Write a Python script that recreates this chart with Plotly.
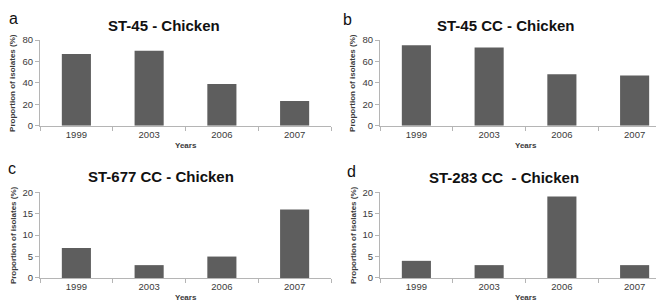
import plotly.graph_objects as go

years = ["1999", "2003", "2006", "2007"]
st45 = [67, 70, 39, 23]
st45cc = [75, 73, 48, 47]
st677cc = [7, 3, 5, 16]
st283cc = [4, 3, 19, 3]

titles = ["ST-45 - Chicken", "ST-45 CC - Chicken", "ST-677 CC - Chicken", "ST-283 CC  - Chicken"]
letters = ["a", "b", "c", "d"]
series = [st45, st45cc, st677cc, st283cc]
yranges = [80, 80, 20, 20]
ydticks = [20, 20, 5, 5]

W, H = 664, 301
# pixel boxes: (x0, x1, ytop, ybottom)
boxes = [(32, 323, 27, 116), (372, 663, 27, 116), (32, 323, 185, 274), (372, 663, 185, 274)]
title_pos = [(156, 12), (498, 12), (153, 169), (496, 170)]
letter_pos = [(5, 5), (339, 6), (4, 160), (343, 163)]
years_dy = [21, 21, 20, 20]

BAR = "#5e5e5e"
AXC = "#b5b5b5"
TXT = "#3a3a3a"
FONT = "Liberation Sans"

fig = go.Figure()
annotations = []
for i in range(4):
    ax = "" if i == 0 else str(i + 1)
    x0, x1, yt, yb = boxes[i]
    fig.add_trace(go.Bar(x=years, y=series[i], marker=dict(color=BAR, line=dict(width=0)),
                         width=0.4, xaxis="x" + ax, yaxis="y" + ax, showlegend=False))
    fig.update_layout(**{
        "xaxis" + ax: dict(domain=[x0 / W, x1 / W], anchor="y" + ax, type="category",
                           range=[-0.5, 3.5], tickson="boundaries", ticks="outside", ticklen=4,
                           tickcolor=AXC, showline=True, linecolor=AXC, linewidth=1,
                           showgrid=False, tickfont=dict(family=FONT, size=9.5, color=TXT)),
        "yaxis" + ax: dict(domain=[1 - yb / H, 1 - yt / H], anchor="x" + ax,
                           range=[0, yranges[i]], dtick=ydticks[i], ticks="outside", ticklen=4,
                           tickcolor=AXC, showline=True, linecolor=AXC, linewidth=1,
                           showgrid=False, zeroline=False,
                           tickfont=dict(family=FONT, size=9.5, color=TXT)),
    })
    tx, ty = title_pos[i]
    annotations.append(dict(text="<b>" + titles[i] + "</b>", x=tx / W, y=1 - ty / H, xref="paper",
                            yref="paper", showarrow=False, xanchor="center", yanchor="middle",
                            font=dict(family=FONT, size=15, color="#111111")))
    lx, ly = letter_pos[i]
    annotations.append(dict(text=letters[i], x=lx / W, y=1 - ly / H, xref="paper", yref="paper",
                            showarrow=False, xanchor="center", yanchor="middle",
                            font=dict(family=FONT, size=16, color="#111111")))
    annotations.append(dict(text="<b>Years</b>", x=(x0 + x1) / 2 / W, y=1 - (yb + years_dy[i]) / H,
                            xref="paper", yref="paper", showarrow=False, xanchor="center",
                            yanchor="middle", font=dict(family=FONT, size=8, color=TXT)))
    annotations.append(dict(text="<b>Proportion of isolates (%)</b>", x=(x0 - 27) / W,
                            y=1 - (yt + yb) / 2 / H, xref="paper", yref="paper", showarrow=False,
                            textangle=-90, xanchor="center", yanchor="middle",
                            font=dict(family=FONT, size=8, color=TXT)))

fig.update_layout(width=W, height=H, margin=dict(l=0, r=0, t=0, b=0),
                  paper_bgcolor="white", plot_bgcolor="white", annotations=annotations,
                  bargap=0.6)
fig.write_html("out.html")
